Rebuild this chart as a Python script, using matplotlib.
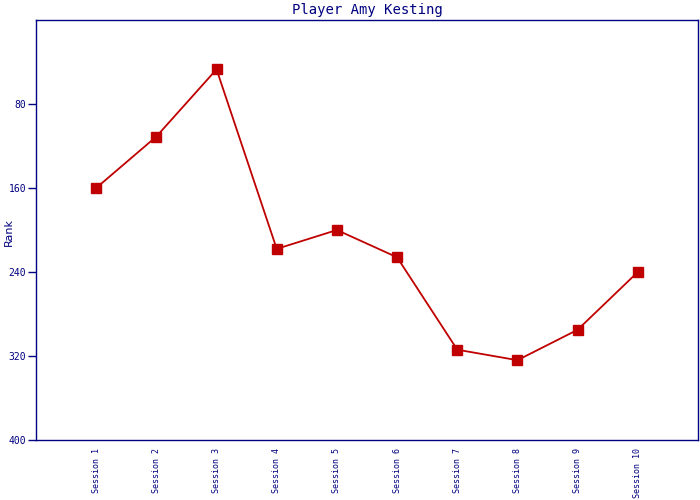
import matplotlib
matplotlib.use("Agg")
import matplotlib.pyplot as plt

sessions = ["Session 1", "Session 2", "Session 3", "Session 4", "Session 5",
            "Session 6", "Session 7", "Session 8", "Session 9", "Session 10"]
ranks = [160, 111, 47, 218, 200, 226, 314, 324, 295, 240]
y_ticks = [80, 160, 240, 320, 400]

navy = "#000080"
red = "#C00000"

fig = plt.figure(figsize=(7, 5), dpi=100)
ax = fig.add_axes([36/700, 60/500, 662/700, 420/500])

x = list(range(1, len(sessions) + 1))
ax.plot(x, ranks, color=red, linewidth=1.3, marker="s", markersize=7,
        markerfacecolor=red, markeredgecolor=red)

ax.set_xlim(0, len(sessions) + 1)
ax.set_ylim(400, 0)
ax.set_yticks(y_ticks)
ax.set_yticklabels([str(v) for v in y_ticks], family="DejaVu Sans Mono",
                   fontsize=7, color=navy)
ax.set_xticks(x)
ax.set_xticklabels(sessions, rotation=90, family="DejaVu Sans Mono",
                   fontsize=6, color=navy)
ax.tick_params(axis="y", length=6, color=navy, width=1, pad=1)
ax.tick_params(axis="x", length=0, pad=6)

for s in ax.spines.values():
    s.set_color(navy)
    s.set_linewidth(1)

ax.set_ylabel("Rank", color=navy, fontsize=8, va="center", ha="center")
ax.yaxis.set_label_coords(-0.041, 0.495)
ax.set_title("Player Amy Kesting", family="DejaVu Sans Mono", fontsize=10,
             color=navy, pad=4)

fig.savefig("out.png", dpi=100)
